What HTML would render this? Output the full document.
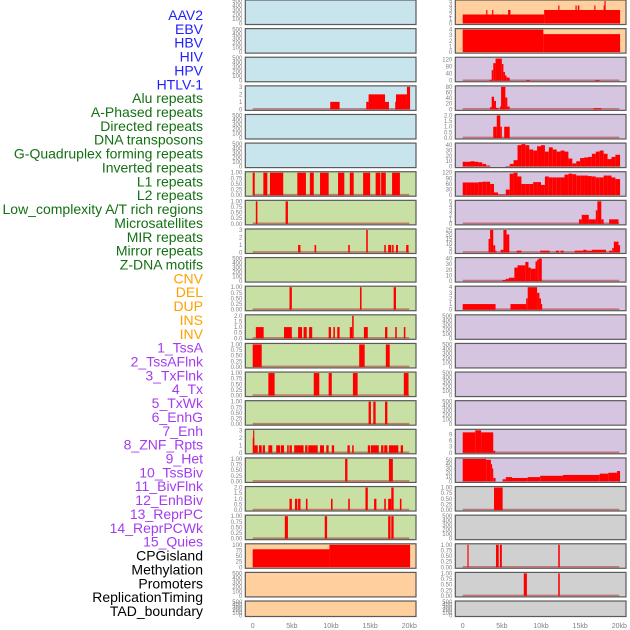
<!DOCTYPE html>
<html><head><meta charset="utf-8"><style>
body{margin:0;background:#fff}
svg{display:block;font-family:"Liberation Sans",sans-serif}
</style></head><body>
<svg id="chart" width="630" height="630" viewBox="0 0 630 630" xmlns="http://www.w3.org/2000/svg">
<g id="labels"></g>
<g id="panels"></g>
<g id="xaxes"></g>
</svg>
<script>
const trackLabels = ["AAV2","EBV","HBV","HIV","HPV","HTLV-1","Alu repeats","A-Phased repeats","Directed repeats","DNA transposons","G-Quadruplex forming repeats","Inverted repeats","L1 repeats","L2 repeats","Low_complexity A/T rich regions","Microsatellites","MIR repeats","Mirror repeats","Z-DNA motifs","CNV","DEL","DUP","INS","INV","1_TssA","2_TssAFlnk","3_TxFlnk","4_Tx","5_TxWk","6_EnhG","7_Enh","8_ZNF_Rpts","9_Het","10_TssBiv","11_BivFlnk","12_EnhBiv","13_ReprPC","14_ReprPCWk","15_Quies","CPGisland","Methylation","Promoters","ReplicationTiming","TAD_boundary"];
const labelGroups = [6,13,5,15,5];
const xTickLabels = ["0","5kb","10kb","15kb","20kb"];
const xTickValues = [0,5,10,15,20];

const T500 = ["0","100","200","300","400","500"];
const T1 = ["0.00","0.25","0.50","0.75","1.00"];
const T2 = ["0.0","0.5","1.0","1.5","2.0"];
const T3 = ["0","1","2","3"];

// left column (rows 0..21)
const L3 = [[9.9,11.1,1],[14.5,14.8,1],[14.8,16.9,2],[16.9,17.4,1],[18.2,18.3,1],[18.3,19.7,2],[19.7,20.1,3]];
const L6 = [[0,0.26,1],[1.36,1.87,1],[2.2,3.9,1],[5.7,6.8,1],[7.3,7.8,1],[8.6,9.7,1],[10.9,11.7,1],[12.4,12.9,1],[14.1,15.0,1],[15.7,16.3,1],[16.4,17.0,1],[17.8,18.8,1]];
const L7 = [[0.4,0.6,1],[4.2,4.5,1]];
const L8 = [[5.8,6.1,1],[7.9,8.1,1],[12.2,12.4,1],[14.5,14.7,3],[16.8,17.0,1],[17.3,17.7,1],[17.8,18.0,1],[18.3,18.55,1],[19.6,19.9,1]];
const L10 = [[4.7,5.0,1],[13.7,13.9,1],[18.0,18.3,1]];
const L11 = [[0.4,1.4,1],[4.0,5.0,1],[5.8,6.3,1],[6.5,6.9,1],[7.2,7.6,1],[9.7,10.0,1],[10.3,10.5,1],[10.8,11.1,1],[12.4,12.7,1],[12.7,12.9,2],[14.2,14.7,1],[16.9,17.2,1],[18.2,18.4,1],[19.3,19.5,1]];
const L12 = [[0,1.15,1],[13.6,14.3,1],[17.0,17.5,1]];
const L13 = [[2.0,2.8,1],[7.8,8.5,1],[9.7,10.1,1],[12.8,13.4,1],[19.3,19.9,1]];
const L14 = [[14.8,15.1,1],[15.4,15.7,1],[16.9,17.2,1]];
const L15 = [[0,0.2,2],[0.05,0.15,3],[0.2,0.64,1],[0.8,1.15,1],[1.28,1.57,1],[2.0,2.5,1],[3.0,3.5,1],[3.6,4.0,1],[4.4,4.6,1],[4.7,5.0,1],[5.3,6.5,1],[6.7,7.0,1],[7.1,8.3,1],[8.6,9.1,1],[9.4,9.7,1],[10.1,10.4,1],[12.1,12.4,1],[12.7,12.9,1],[14.7,15.0,1],[15.1,16.1,1],[16.4,16.7,1],[16.8,17.2,1],[17.4,18.6,1],[18.9,19.2,1]];
const L16 = [[11.8,12.1,1],[17.4,17.9,1]];
const L17 = [[4.7,5.0,1],[5.4,5.7,1],[5.8,6.1,1],[6.8,7.0,1],[10.0,10.2,1],[12.2,12.4,1],[14.4,14.7,2],[15.5,15.8,1],[16.8,17.0,1],[17.3,17.7,1],[17.7,18.0,2],[18.8,19.0,1]];
const L18 = [[4.1,4.5,1],[9.2,9.5,1],[17.3,17.6,1],[17.7,18.0,1]];
const L19 = [[0,9.8,80],[9.8,20.1,100]];
// right column
const R0 = [[0,10.4,2],[10.4,20.1,3],[3.0,3.15,3],[3.75,3.9,3],[5.8,6.1,3],[12.2,12.35,4],[14.4,14.55,4],[14.7,14.9,4],[16.8,16.95,4],[18.0,18.2,4],[18.1,18.2,5]];
const R1 = [[0,10.3,4],[10.3,20.1,3.2]];
const R2 = [[3.4,3.7,5],[3.7,3.9,60],[3.9,4.2,100],[4.2,5.0,126],[5.0,5.2,95],[5.2,5.4,50],[5.4,5.6,30],[5.6,6.0,18],[8.1,8.6,4],[16.9,17.5,4]];
const R3 = [[3.5,3.7,8],[3.7,4.0,45],[4.0,4.25,30],[4.25,4.6,5],[4.75,4.9,10],[4.9,5.45,80],[5.45,5.7,42],[5.7,6.0,10],[16.7,17.7,4]];
const R4 = [[3.9,4.35,1],[4.35,4.8,2],[4.8,5.0,1],[5.3,6.0,1]];
const R5bins = [9,9,10,9,8,5,2,0,0,0,0,1,5,12,40,42,40,32,30,38,40,28,36,32,28,30,28,15,6,10,16,17,18,24,28,30,24,14,18,22];
const R6bins = [68,68,68,68,70,72,72,60,15,5,5,30,115,120,100,60,60,60,70,70,55,100,95,95,95,95,110,115,112,105,105,105,102,100,95,95,105,105,95,86];
const R7 = [[14.85,15.2,1],[15.2,16.1,2],[16.1,17.0,1],[17.0,17.2,3],[17.2,17.7,5],[17.7,18.0,1],[18.7,19.9,1]];
const R8 = [[3.3,3.5,15],[3.5,3.9,25],[3.9,4.15,8],[4.15,4.3,2],[4.85,5.2,3],[5.2,5.6,25],[5.6,5.95,20],[6.9,7.5,2],[9.9,11.1,2],[11.9,12.3,2],[12.5,12.9,2],[14.3,15.4,2],[15.4,15.8,3],[15.8,16.5,2],[16.5,18.3,3],[18.7,19.1,2],[19.1,19.3,5],[19.3,19.9,12],[19.9,20.1,8]];
const R9 = [[5.1,5.5,2],[5.5,5.9,4],[5.9,6.6,6],[6.6,7.0,24],[7.0,8.0,28],[8.0,8.4,34],[8.4,8.7,24],[8.7,9.3,22],[9.3,9.5,35],[9.5,9.7,38],[9.7,10.1,40]];
const R10 = [[0,4.2,1],[6.1,8.1,1],[8.1,8.3,2],[8.3,9.5,4],[9.5,9.8,3],[9.8,10.0,2],[10.0,10.1,1]];
const R15 = [[0,1.6,10],[1.6,2.35,11],[2.35,3.9,10],[3.9,4.15,1]];
const R16 = [[0,3.0,52],[3.0,3.6,50],[3.6,3.75,40],[3.75,3.9,30],[3.9,4.2,8],[5.1,5.5,5],[5.5,6.3,10],[6.3,8.3,8],[8.3,9.9,10],[9.9,12.8,13],[12.8,17.5,15],[17.5,18.6,18],[18.6,19.7,20],[19.7,20.1,24]];
const R17 = [[4.0,5.1,1]];
const R19 = [[0.6,0.75,1],[4.25,4.6,1],[4.75,5.0,1],[12.2,12.4,1]];
const R20 = [[7.8,8.2,1],[12.2,12.4,1]];

function bins(b){const s=[];for(let i=0;i<b.length;i++){s.push([i*0.5,i===b.length-1?20.1:(i+1)*0.5,b[i]]);}return s;}

const leftPanels = [
 {ymax:500,ticks:T500,segs:[]},{ymax:500,ticks:T500,segs:[]},{ymax:500,ticks:T500,segs:[]},
 {ymax:3,ticks:T3,segs:L3,base:1},{ymax:500,ticks:T500,segs:[]},{ymax:500,ticks:T500,segs:[]},
 {ymax:1,ticks:T1,segs:L6,base:1},{ymax:1,ticks:T1,segs:L7,base:1},{ymax:3,ticks:T3,segs:L8,base:1},
 {ymax:500,ticks:T500,segs:[]},{ymax:1,ticks:T1,segs:L10,base:1},{ymax:2,ticks:T2,segs:L11,base:1},
 {ymax:1,ticks:T1,segs:L12,base:1},{ymax:1,ticks:T1,segs:L13,base:1},{ymax:1,ticks:T1,segs:L14,base:1},
 {ymax:3,ticks:T3,segs:L15,base:1},{ymax:1,ticks:T1,segs:L16,base:1},{ymax:2,ticks:T2,segs:L17,base:1},
 {ymax:1,ticks:T1,segs:L18,base:1},{ymax:100,ticks:["0","25","50","75","100"],segs:L19},
 {ymax:500,ticks:T500,segs:[]},{ymax:500,ticks:T500,segs:[]}
];
const rightPanels = [
 {ymax:5,ticks:["0","1","2","3","4","5"],segs:R0},{ymax:4,ticks:["0","1","2","3","4"],segs:R1},
 {ymax:128,ticks:["0","40","80","120"],segs:R2,base:1},{ymax:80,ticks:["0","20","40","60","80"],segs:R3,base:1},
 {ymax:2,ticks:T2,segs:R4,base:1},{ymax:42,ticks:["0","10","20","30","40"],segs:bins(R5bins)},
 {ymax:120,ticks:["0","30","60","90","120"],segs:bins(R6bins)},{ymax:5,ticks:["0","1","2","3","4","5"],segs:R7,base:1},
 {ymax:25,ticks:["0","5","10","15","20","25"],segs:R8,base:1},{ymax:40,ticks:["0","10","20","30","40"],segs:R9,base:1},
 {ymax:4,ticks:["0","1","2","3","4"],segs:R10,base:1},
 {ymax:500,ticks:T500,segs:[]},{ymax:500,ticks:T500,segs:[]},{ymax:500,ticks:T500,segs:[]},{ymax:500,ticks:T500,segs:[]},
 {ymax:11,ticks:["0","3","6","9"],segs:R15,base:1},{ymax:52,ticks:["0","10","20","30","40","50"],segs:R16},
 {ymax:1,ticks:T1,segs:R17,base:1},{ymax:500,ticks:T500,segs:[]},
 {ymax:1,ticks:T1,segs:R19,base:1},{ymax:1,ticks:T1,segs:R20,base:1},{ymax:500,ticks:T500,segs:[]}
];
const NS="http://www.w3.org/2000/svg";
function mk(tag,attrs,parent){const e=document.createElementNS(NS,tag);for(const k in attrs)e.setAttribute(k,attrs[k]);parent.appendChild(e);return e;}

// labels
const lg=document.getElementById('labels');
const groupColors=["#1f1fff","#137013","#ffa000","#a33cf0","#000000"];
let gi=0,cnt=0;
trackLabels.forEach((t,i)=>{
  while(cnt>=labelGroups[gi]){gi++;cnt=0;}
  cnt++;
  const e=mk('text',{x:203,y:15+13.86*i+5,'text-anchor':'end','font-size':'14',fill:groupColors[gi]},lg);
  
  
  e.textContent=t;
});

const pg=document.getElementById('panels');
const PX=7.83;
function drawCol(list,left,right,x0,bgs,colName){
  list.forEach((p,i)=>{
    const top=28.62*i, h=(i===21)?15.5:24.5, bot=top+h;
    const g=mk('g',{},pg);
    
    
    const yv=v=>bot-1-v/p.ymax*(h-2);
    const xv=k=>x0+k*PX;
    const bg=mk('rect',{x:left,y:top,width:right-left,height:h,fill:bgs[i],stroke:'#5a5a5a','stroke-width':1.2},g);
    
    
    if(p.base){
      const b=mk('line',{x1:xv(0),x2:xv(20),y1:yv(0)-0.5,y2:yv(0)-0.5,stroke:'#b03030','stroke-opacity':0.55,'stroke-width':1.6},g);
      
      
    }
    p.segs.forEach(s=>{
      if(s[2]<=0)return;
      const x1=xv(s[0]),x2=xv(s[1]);
      const r=mk('rect',{x:x1,y:yv(s[2]),width:Math.max(1.2,x2-x1),height:yv(0)-yv(s[2]),fill:'#ff0000'},g);
      
      
    });
    const n=p.ticks.length;
    p.ticks.forEach(tl=>{
      const v=parseFloat(tl);
      const t=mk('text',{x:left-3,y:yv(v)+2,'text-anchor':'end','font-size':'6',fill:'#808080'},g);
      
      
      t.textContent=tl;
    });
  });
}
const B='#c8e4ec',G='#c8e0a4',O='#ffd09e',P='#d5c5e1',Y='#d0d0d0';
const leftBg=[B,B,B,B,B,B,G,G,G,G,G,G,G,G,G,G,G,G,G,O,O,O];
const rightBg=[O,O,P,P,P,P,P,P,P,P,P,P,P,P,P,P,P,Y,Y,Y,Y,Y];
drawCol(leftPanels,245.3,416,252.7,leftBg,'left');
drawCol(rightPanels,455.3,626,462.7,rightBg,'right');

const xg=document.getElementById('xaxes');
[252.7,462.7].forEach((x0,ci)=>{
  xTickValues.forEach((v,j)=>{
    const t=mk('text',{x:x0+v*PX,y:628,'text-anchor':'middle','font-size':'7',fill:'#808080'},xg);
    
    
    t.textContent=xTickLabels[j];
  });
});
</script>
</body></html>
